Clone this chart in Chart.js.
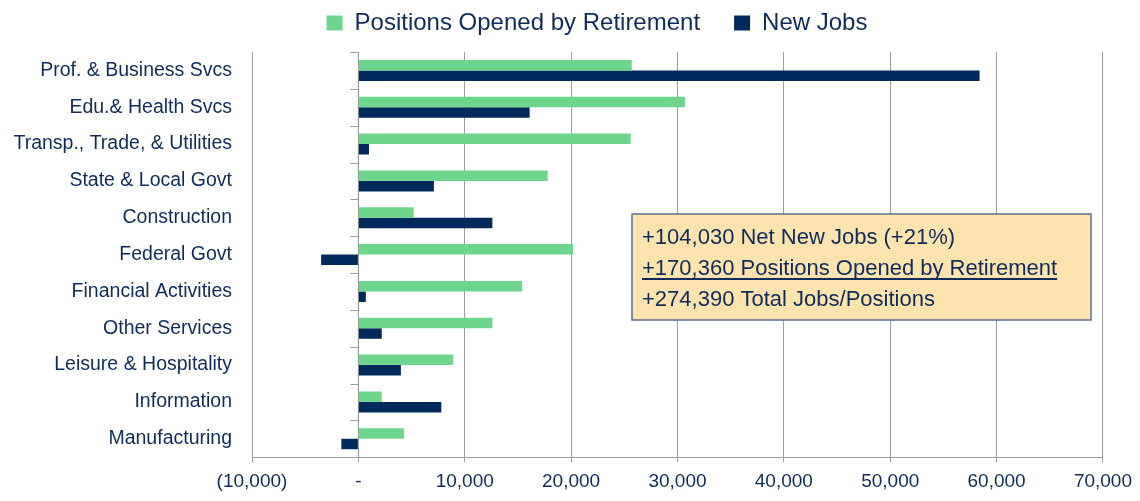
<!DOCTYPE html>
<html>
<head>
<meta charset="utf-8">
<script src="https://cdn.jsdelivr.net/npm/chart.js@4.4.1/dist/chart.umd.min.js"></script>
<style>
  body { margin: 0; background: #fff; }
  #wrap { width: 1140px; height: 501px; position: relative; }
</style>
</head>
<body>
<div id="wrap"><canvas id="myChart"></canvas></div>
<script>
const categories = [
  "Prof. & Business Svcs",
  "Edu.& Health Svcs",
  "Transp., Trade, & Utilities",
  "State & Local Govt",
  "Construction",
  "Federal Govt",
  "Financial Activities",
  "Other Services",
  "Leisure & Hospitality",
  "Information",
  "Manufacturing"
];
const retirementOpenings = [25700, 30700, 25600, 17800, 5200, 20200, 15400, 12600, 8900, 2200, 4300];
const newJobs = [58400, 16100, 1000, 7100, 12600, -3500, 700, 2200, 4000, 7800, -1600];
const xMin = -10000;
const xMax = 70000;
const xStep = 10000;
const summaryLines = [
  "+104,030 Net New Jobs (+21%)",
  "+170,360 Positions Opened by Retirement",
  "+274,390 Total Jobs/Positions"
];

const navy = "#002a5c";
const green = "#6dd68c";
const textColor = "#0f2b5c";
const gridColor = "#9c9c9c";
const font = "'Liberation Sans', Arial, sans-serif";

function formatTick(v) {
  if (v === 0) return "-";
  const s = Math.abs(v).toLocaleString("en-US");
  return v < 0 ? `(${s})` : s;
}

// zero line with little ticks between categories
const zeroAxis = {
  id: "zeroAxis",
  beforeDatasetsDraw(chart) {
    const { ctx, chartArea, scales } = chart;
    const x0 = scales.x.getPixelForValue(0);
    const band = scales.y.getPixelForValue(1) - scales.y.getPixelForValue(0);
    ctx.save();
    ctx.strokeStyle = gridColor;
    ctx.lineWidth = 1;
    ctx.beginPath();
    ctx.moveTo(x0, chartArea.top);
    ctx.lineTo(x0, chartArea.bottom);
    for (let i = 0; i <= categories.length; i++) {
      const y = Math.round(scales.y.getPixelForValue(i) - band / 2) + 0.5;
      ctx.moveTo(x0 - 8, y);
      ctx.lineTo(x0, y);
    }
    ctx.stroke();
    ctx.restore();
  }
};

// summary text box
const summaryBox = {
  id: "summaryBox",
  afterDraw(chart) {
    const { ctx, chartArea } = chart;
    const bx = chartArea.left + 380;
    const by = chartArea.top + 162;
    const bw = 459;
    const bh = 106;
    ctx.save();
    ctx.fillStyle = "#fde3ae";
    ctx.fillRect(bx, by, bw, bh);
    ctx.strokeStyle = "#5e6f90";
    ctx.lineWidth = 1.5;
    ctx.strokeRect(bx, by, bw, bh);
    ctx.font = "22px " + font;
    ctx.fillStyle = textColor;
    ctx.textBaseline = "alphabetic";
    summaryLines.forEach((line, i) => {
      const ty = by + 30 + i * 31;
      ctx.fillText(line, bx + 10, ty);
      if (i === 1) {
        const w = ctx.measureText(line).width;
        ctx.fillRect(bx + 10, ty + 3, w, 2);
      }
    });
    ctx.restore();
  }
};

// legend: fixed height, nudged right and up
const legendPlace = {
  id: "legendPlace",
  beforeInit(chart) {
    const fit = chart.legend.fit;
    chart.legend.fit = function () {
      fit.bind(chart.legend)();
      this.height = 52;
    };
  },
  afterLayout(chart) {
    const lg = chart.legend;
    lg.left += 36;
    lg.right += 36;
    lg.top -= 23;
  }
};

new Chart(document.getElementById("myChart"), {
  type: "bar",
  data: {
    labels: categories,
    datasets: [
      {
        label: "Positions Opened by Retirement",
        data: retirementOpenings,
        backgroundColor: green,
        categoryPercentage: 0.57,
        barPercentage: 1
      },
      {
        label: "New Jobs",
        data: newJobs,
        backgroundColor: navy,
        categoryPercentage: 0.57,
        barPercentage: 1
      }
    ]
  },
  options: {
    indexAxis: "y",
    responsive: true,
    maintainAspectRatio: false,
    animation: false,
    layout: { padding: { left: 8, right: 26, top: 0, bottom: 0 } },
    plugins: {
      legend: {
        display: true,
        position: "top",
        labels: {
          boxWidth: 16,
          boxHeight: 15,
          padding: 34,
          color: textColor,
          font: { family: font, size: 24 }
        }
      },
      tooltip: { enabled: false }
    },
    scales: {
      x: {
        min: xMin,
        max: xMax,
        ticks: {
          stepSize: xStep,
          color: textColor,
          font: { family: font, size: 19 },
          padding: 8,
          maxRotation: 0,
          callback: (v) => formatTick(v)
        },
        grid: { color: gridColor, lineWidth: 1, tickLength: 5 },
        border: { color: gridColor }
      },
      y: {
        afterFit: (scale) => { scale.width = 244; },
        ticks: {
          color: textColor,
          font: { family: font, size: 19.5 },
          padding: 12
        },
        grid: { display: false },
        border: { display: false }
      }
    }
  },
  plugins: [zeroAxis, summaryBox, legendPlace]
});
</script>
</body>
</html>
